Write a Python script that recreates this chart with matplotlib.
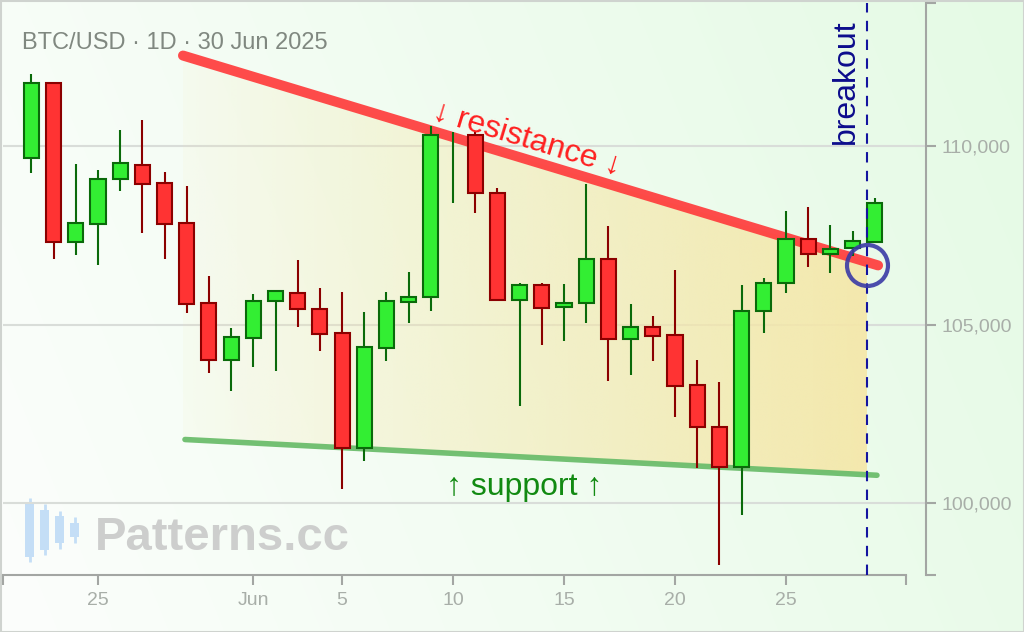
import datetime as dt
import numpy as np
import matplotlib
matplotlib.use("Agg")
import matplotlib.pyplot as plt
import matplotlib.dates as mdates
from matplotlib.patches import Polygon, Rectangle
from matplotlib.ticker import FixedLocator

plt.rcParams['font.family'] = ['Liberation Sans', 'DejaVu Sans']

# daily BTC/USD candles, 22 May .. 29 Jun 2025
start = dt.date(2025, 5, 22)
dates = [start + dt.timedelta(days=i) for i in range(39)]
opens = [109670, 111760, 107320, 107830, 109070, 109460, 108960, 107840, 105600, 104020,
         104640, 105660, 105880, 105440, 104770, 101560, 104360, 105640, 105770, 110300,
         110300, 108680, 105700, 106110, 105490, 105600, 106840, 104600, 104930, 104710,
         103310, 102140, 101010, 105380, 106160, 107400, 106990, 107140, 107320]
highs = [112020, 111800, 109500, 109340, 110450, 110730, 109280, 108890, 106370, 104920,
         105870, 105940, 106820, 106040, 105920, 105360, 105920, 106480, 110570, 110400,
         110400, 108830, 106180, 106180, 106150, 108940, 107770, 105590, 105250, 106540,
         104010, 103410, 106100, 106310, 108170, 108280, 107790, 107620, 108550]
lows = [109240, 106840, 106950, 106670, 108740, 107560, 106840, 105330, 103650, 103140,
        103820, 103700, 104930, 104260, 100400, 101190, 103980, 105050, 105380, 108400,
        108120, 105690, 102720, 104430, 104540, 105050, 103420, 103590, 103980, 102430,
        100980, 98290, 99690, 104780, 105900, 106620, 106440, 106930, 107310]
closes = [111760, 107320, 107840, 109070, 109520, 108940, 107830, 105590, 104020, 104650,
          105660, 105940, 105440, 104750, 101560, 104370, 105660, 105770, 110300, 110300,
          108680, 105700, 106110, 105480, 105600, 106840, 104600, 104930, 104690, 103300,
          102130, 101010, 105380, 106170, 107390, 106990, 107130, 107340, 108400]

# pattern lines (days after 25 May, price)
ref_day = dt.date(2025, 5, 25)
resist_days = [3.83, 35.15]
resist_prices = [112530, 106660]
support_days = [3.92, 35.10]
support_prices = [101790, 100790]
breakout_day = 34.65
breakout_price = 106660

tick_dates = [dt.date(2025, 5, 25), dt.date(2025, 6, 1), dt.date(2025, 6, 5), dt.date(2025, 6, 10),
              dt.date(2025, 6, 15), dt.date(2025, 6, 20), dt.date(2025, 6, 25)]
tick_labels = ["25", "Jun", "5", "10", "15", "20", "25"]
price_ticks = [100000, 105000, 110000]
price_labels = ["100,000", "105,000", "110,000"]

base = mdates.date2num(ref_day)
x = mdates.date2num(dates)
xmin, xmax, xaxis_end = base - 4.28, base + 37.31, base + 36.41
ymin, ymax = 98000, 114000

fig = plt.figure(figsize=(10.24, 6.32), dpi=100)

# background: soft white -> mint gradient, watermark, border
bg = fig.add_axes([0, 0, 1, 1], zorder=0)
W, H = 256, 158
gx = np.linspace(0, 1, W)[None, :]
gy = np.linspace(0, 1, H)[:, None]
t = 0.8 * gx + 0.2 * (1 - gy)
c0 = np.array([252, 254, 252]) / 255
c1 = np.array([229, 250, 229]) / 255
grad = c0[None, None, :] + t[..., None] * (c1 - c0)[None, None, :]
bg.imshow(grad, extent=(0, 1024, 632, 0), aspect='auto', interpolation='bicubic')
bg.set_xlim(0, 1024)
bg.set_ylim(632, 0)
bg.axis('off')

icon_x = [29.5, 44.5, 59.5, 74.5]
icon_top = [503, 510, 516, 523]
icon_bot = [557, 550, 543, 537]
icon_hi = [498, 504, 511, 517]
icon_lo = [562, 555, 549, 543]
bg.vlines(icon_x, icon_hi, icon_lo, colors='#c4def6', lw=2)
bg.bar(icon_x, np.array(icon_bot) - np.array(icon_top), bottom=icon_top, width=9, color='#c4def6')
bg.text(95, 550, "Patterns.cc", fontsize=34, weight='bold', color='#cdcecd', va='baseline')
bg.add_patch(Rectangle((0.5, 0.5), 1023, 631, fill=False, ec='#cfd3cf', lw=1.5))

# main chart
ax = fig.add_axes([3 / 1024, 57 / 632, 923 / 1024, 572 / 632], zorder=1)
ax.patch.set_alpha(0)

# wedge fill with left->right gradient, clipped to the wedge
def line_at(days, prices, d):
    return prices[0] + (prices[1] - prices[0]) * (d - days[0]) / (days[1] - days[0])

fill_days = np.linspace(resist_days[0], breakout_day, 50)
upper = line_at(resist_days, resist_prices, fill_days)
lower = line_at(support_days, support_prices, fill_days)
poly_pts = np.column_stack([np.r_[fill_days, fill_days[::-1]] + base, np.r_[upper, lower[::-1]]])
wedge = Polygon(poly_pts, closed=True, fc='none', ec='none')
ax.add_patch(wedge)
fw = np.zeros((2, 200, 4))
fw[..., 0], fw[..., 1], fw[..., 2] = 245 / 255, 231 / 255, 168 / 255
fw[..., 3] = np.linspace(0.08, 0.92, 200)[None, :]
im = ax.imshow(fw, extent=(base + resist_days[0], base + breakout_day, min(lower), max(upper)),
               aspect='auto', interpolation='bilinear', zorder=1)
im.set_clip_path(wedge)

ax.plot(base + np.array(resist_days), resist_prices, color='#ff3c3c', lw=7.2, alpha=0.92,
        solid_capstyle='round', zorder=2)
ax.plot(base + np.array(support_days), support_prices, color='#6cbd6c', lw=4, alpha=0.95,
        solid_capstyle='round', zorder=2)

opens_a, closes_a = np.array(opens), np.array(closes)
up = closes_a >= opens_a
edge = np.where(up, '#0a6a0a', '#8b0000')
face = np.where(up, '#33ee33', '#ff3333')
ax.vlines(x, lows, highs, colors=edge, lw=1.5, zorder=3)
has_body = closes_a != opens_a
ax.bar(x[has_body], np.abs(closes_a - opens_a)[has_body], bottom=np.minimum(opens_a, closes_a)[has_body],
       width=0.68, color=face[has_body], edgecolor=edge[has_body], lw=1.5, zorder=4)

ax.axvline(base + breakout_day, color='#1414a0', lw=1.5, ls=(0, (5, 4)), zorder=5)
ax.plot(base + breakout_day, breakout_price, marker='o', ms=29.5, mfc='none', mec='#3a3aa6',
        mew=3, alpha=0.9, zorder=6)

ax.text(base + 19.33, 110210, "↓ resistance ↓", color='#ff2020', fontsize=23, rotation=-16.8,
        rotation_mode='anchor', ha='center', va='center', zorder=7)
ax.text(base + 19.2, 100452, "↑ support ↑", color='#128a12', fontsize=23, ha='center',
        va='center', zorder=7)
ax.text(base + 33.71, 111800, "breakout", color='#0c0c8c', fontsize=23, rotation=90,
        ha='center', va='center', zorder=7)

ax.set_xlim(xmin, xmax)
ax.set_ylim(ymin, ymax)

ax.set_xticks(mdates.date2num(tick_dates))
ax.set_xticklabels(tick_labels)
ax.xaxis.set_minor_locator(FixedLocator([xmin, xaxis_end]))
ax.yaxis.tick_right()
ax.set_yticks(price_ticks)
ax.set_yticklabels(price_labels)
ax.yaxis.set_minor_locator(FixedLocator([ymin, ymax]))

for s in ['left', 'top']:
    ax.spines[s].set_visible(False)
for s in ['right', 'bottom']:
    ax.spines[s].set_color('#a3a6a3')
    ax.spines[s].set_linewidth(1.5)
ax.spines['bottom'].set_bounds(xmin, xaxis_end)

ax.tick_params(which='both', length=7.5, width=1.5, color='#a3a6a3')
ax.tick_params(axis='both', labelcolor='#a8aea8', labelsize=14)
ax.tick_params(axis='x', pad=5)
ax.tick_params(axis='y', pad=4)
ax.grid(axis='y', color='#d9ddd9', lw=1.5, zorder=0)
ax.set_axisbelow(True)

fig.text(22 / 1024, 1 - 49 / 632, "BTC/USD · 1D · 30 Jun 2025", fontsize=17, color='#808880',
         va='baseline')

fig.savefig("out.png", dpi=100)
